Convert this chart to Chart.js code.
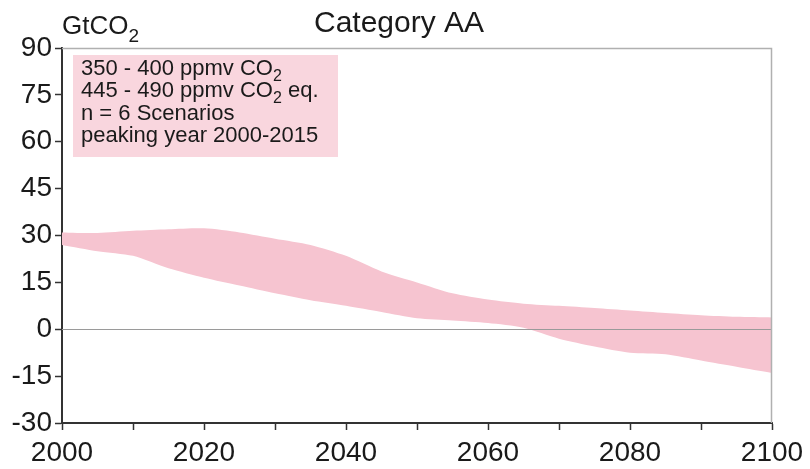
<!DOCTYPE html>
<html>
<head>
<meta charset="utf-8">
<script src="https://cdn.jsdelivr.net/npm/chart.js@4.4.1/dist/chart.umd.min.js"></script>
<style>
html,body{margin:0;padding:0;background:#fff;}
#wrap{position:relative;width:810px;height:469px;}
</style>
</head>
<body>
<div id="wrap"><canvas id="c" width="810" height="469"></canvas></div>
<script>
const years = [2000,2005,2010,2015,2020,2025,2030,2035,2040,2045,2050,2055,2060,2065,2070,2075,2080,2085,2090,2095,2100];
const upperBound = [31,30.8,31.5,32,32.3,31,29,27,23.5,18.5,15,11.5,9.5,8.2,7.5,6.8,6,5.2,4.5,4,3.8];
const lowerBound = [27,25,23.5,19.5,16.5,14,11.5,9.3,7.5,5.5,3.5,2.8,2,0.5,-3,-5.5,-7.5,-8,-10,-12,-14];
const yTicks = [-30,-15,0,15,30,45,60,75,90];
const xLabelYears = [2000,2020,2040,2060,2080,2100];
const titleText = 'Category AA';
const unitText = ['GtCO','2'];
const boxLines = [
  [['350 - 400 ppmv CO',0],['2',1]],
  [['445 - 490 ppmv CO',0],['2',1],[' eq.',0]],
  [['n = 6 Scenarios',0]],
  [['peaking year 2000-2015',0]]
];

const FONT = '"Liberation Sans", Arial, sans-serif';
const bandColor = '#f6c4d0';
const boxColor = '#f9d6de';
const textColor = '#1a1a1a';

function drawRuns(ctx, runs, x, y, size, subSize, subDy){
  for(const [t,sub] of runs){
    ctx.font = (sub? subSize : size) + 'px ' + FONT;
    ctx.fillText(t, x, y + (sub? subDy : 0));
    x += ctx.measureText(t).width;
  }
  return x;
}

const decor = {
  id:'decor',
  afterDatasetsDraw(chart){
    const {ctx, chartArea:a, scales} = chart;
    ctx.save();
    const y0 = scales.y.getPixelForValue(0);
    ctx.strokeStyle = '#9a9a9a';
    ctx.lineWidth = 1;
    ctx.beginPath(); ctx.moveTo(a.left, Math.round(y0)+0.5); ctx.lineTo(a.right, Math.round(y0)+0.5); ctx.stroke();
    ctx.strokeStyle = '#b0b0b0';
    ctx.lineWidth = 1.5;
    ctx.beginPath();
    ctx.moveTo(a.left, a.top+0.5); ctx.lineTo(a.right-0.5, a.top+0.5); ctx.lineTo(a.right-0.5, a.bottom);
    ctx.stroke();
    ctx.fillStyle = boxColor;
    ctx.fillRect(a.left+11, a.top+7, 265, 102);
    ctx.fillStyle = textColor;
    ctx.textBaseline = 'alphabetic';
    ctx.textAlign = 'left';
    let by = a.top + 27;
    for(const line of boxLines){
      drawRuns(ctx, line, a.left+19, by, 22, 16, 6);
      by += 22.4;
    }
    ctx.font = '30px ' + FONT;
    ctx.textAlign = 'left';
    ctx.fillText(titleText, 314, 32);
    drawRuns(ctx, [[unitText[0],0],[unitText[1],1]], 62, 34, 26, 19, 8);
    ctx.restore();
  }
};

new Chart(document.getElementById('c'), {
  type:'line',
  data:{
    datasets:[
      {label:'upper', data: years.map((x,i)=>({x, y:upperBound[i]})), fill:'+1', backgroundColor:bandColor, borderWidth:0, pointRadius:0, tension:0.25},
      {label:'lower', data: years.map((x,i)=>({x, y:lowerBound[i]})), fill:false, borderWidth:0, pointRadius:0, tension:0.25}
    ]
  },
  options:{
    responsive:false,
    animation:false,
    events:[],
    layout:{padding:{top:48, right:38, left:0, bottom:0}},
    plugins:{legend:{display:false}, tooltip:{enabled:false}, title:{display:false}},
    scales:{
      x:{
        type:'linear', min:2000, max:2100,
        afterFit(s){ s.height = 46; },
        afterBuildTicks(s){ s.ticks = []; for(let v=2000; v<=2100; v+=10) s.ticks.push({value:v}); },
        ticks:{ callback:(v)=> xLabelYears.includes(v) ? String(v) : '', font:{family:FONT, size:28}, color:textColor, padding:6, maxRotation:0, autoSkip:false },
        grid:{ drawOnChartArea:false, tickLength:7, tickColor:'#333', tickWidth:1.5 },
        border:{ color:'#333', width:2 }
      },
      y:{
        type:'linear', min:-30, max:90,
        afterFit(s){ s.width = 62; },
        afterBuildTicks(s){ s.ticks = yTicks.map(v=>({value:v})); },
        ticks:{ font:{family:FONT, size:28}, color:textColor, padding:3 },
        grid:{ drawOnChartArea:false, tickLength:7, tickColor:'#333', tickWidth:1.5 },
        border:{ color:'#333', width:2 }
      }
    }
  },
  plugins:[decor]
});
</script>
</body>
</html>
